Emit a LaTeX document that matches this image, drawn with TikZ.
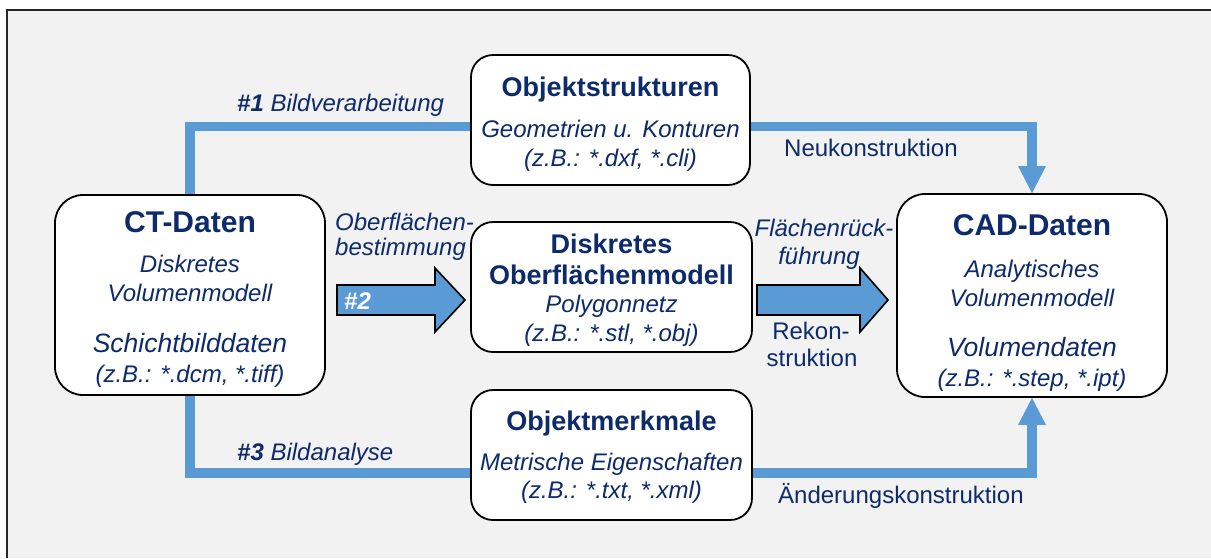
\documentclass[tikz,border=0pt]{standalone}
\usepackage{fontspec}
\setmainfont{Liberation Sans}
\usetikzlibrary{arrows.meta}
\definecolor{navy}{HTML}{0D2B6B}
\definecolor{flowblue}{HTML}{5B9BD5}
\definecolor{bggray}{HTML}{F2F2F2}
\pgfdeclarelayer{bg}
\pgfsetlayers{bg,main}
\newcommand\fTitleL{\fontsize{30}{34}\selectfont\bfseries}
\newcommand\fTitle{\fontsize{27}{31}\selectfont\bfseries}
\newcommand\fIt{\fontsize{24}{28}\selectfont\itshape}
\newcommand\fItL{\fontsize{26.5}{30}\selectfont\itshape}
\newcommand\fLab{\fontsize{24}{28}\selectfont}
\begin{document}
\begin{tikzpicture}[x=1pt,y=-1pt,
  box/.style={draw=black,line width=1.8pt,fill=white,inner sep=0pt},
  flow/.style={draw=flowblue,line width=9.5pt},
  tipb/.style={-{Triangle[length=27pt,width=28pt,line width=0pt]}},
  bigarrow/.style={draw=black,line width=1.6pt,fill=flowblue,line join=miter},
  tb/.style={text=navy,inner sep=0pt,anchor=base},
  lb/.style={text=navy,inner sep=0pt,font=\fLab}]
\useasboundingbox (0,0) rectangle (1211,558);
% boxes
\node[box,rounded corners=28pt,minimum width=270pt,minimum height=200pt] (ct) at (190,295) {};
\node[box,rounded corners=28pt,minimum width=270pt,minimum height=203pt] (cad) at (1032,295.5) {};
\node[box,rounded corners=22pt,minimum width=279pt,minimum height=130pt] (objs) at (610.5,120) {};
\node[box,rounded corners=22pt,minimum width=281pt,minimum height=130pt] (dis) at (611.5,287) {};
\node[box,rounded corners=22pt,minimum width=281pt,minimum height=130pt] (objm) at (611.5,455) {};
\coordinate (toprow) at (0,126.5);
\coordinate (botrow) at (0,473);
\begin{pgfonlayer}{bg}
\fill[white] (0,0) rectangle (1211,558);
\fill[bggray] (7,10) rectangle (1211,558);
\draw[line width=1.5pt,black!85] (1211,10) -- (7,10) -- (7,558);
\draw[flow,tipb] (ct.north) -- (ct.north |- toprow) -| (cad.north);
\draw[flow,tipb] (ct.south) -- (ct.south |- botrow) -| (cad.south);
\end{pgfonlayer}
% big arrows
\coordinate (a2) at (337,300);
\coordinate (a4) at (757,300);
\draw[bigarrow] (a2) ++(0,-15) -- ++(98,0) -- ++(0,-17) -- ++(30,32) -- ++(-30,32) -- ++(0,-17) -- ++(-98,0) -- cycle;
\draw[bigarrow] (a4) ++(0,-15) -- ++(103,0) -- ++(0,-17) -- ++(28,32) -- ++(-28,32) -- ++(0,-17) -- ++(-103,0) -- cycle;
\node[inner sep=0pt,anchor=base west,text=white,font=\fLab\bfseries\itshape] (n2) at (344,309.5) {\#2};
% CT text
\node[tb,font=\fTitleL] (ctT) at (190,232) {CT-Daten};
\node[tb,font=\fIt] (ctA) at (190,272) {Diskretes};
\node[tb,font=\fIt] (ctB) at (190,301) {Volumenmodell};
\node[tb,font=\fItL] (ctC) at (190,352) {Schichtbilddaten};
\node[tb,font=\fIt] (ctD) at (190,382) {(z.B.: *.dcm, *.tiff)};
% CAD text
\node[tb,font=\fTitleL] (cadT) at (1032,235) {CAD-Daten};
\node[tb,font=\fIt] (cadA) at (1032,277) {Analytisches};
\node[tb,font=\fIt] (cadB) at (1032,306) {Volumenmodell};
\node[tb,font=\fItL] (cadC) at (1032,356) {Volumendaten};
\node[tb,font=\fIt] (cadD) at (1032,386) {(z.B.: *.step, *.ipt)};
% Objektstrukturen
\node[tb,font=\fTitle] (osT) at (610.5,96) {Objektstrukturen};
\node[tb,font=\fIt] (osA) at (610.5,137) {Geometrien u. Konturen};
\node[tb,font=\fIt] (osB) at (610.5,166) {(z.B.: *.dxf, *.cli)};
% Diskretes Oberflaechenmodell
\node[tb,font=\fTitle] (dsT) at (611.5,253) {Diskretes};
\node[tb,font=\fTitle] (dsU) at (611.5,284) {Oberflächenmodell};
\node[tb,font=\fIt] (dsA) at (611.5,312) {Polygonnetz};
\node[tb,font=\fIt] (dsB) at (611.5,341) {(z.B.: *.stl, *.obj)};
% Objektmerkmale
\node[tb,font=\fTitle] (omT) at (611.5,430) {Objektmerkmale};
\node[tb,font=\fIt] (omA) at (611.5,470) {Metrische Eigenschaften};
\node[tb,font=\fIt] (omB) at (611.5,498) {(z.B.: *.txt, *.xml)};
% labels
\node[lb,anchor=base west] (l1) at (237,111) {\itshape\textbf{\#1} Bildverarbeitung};
\node[lb,anchor=base west] (l2) at (784,156) {Neukonstruktion};
\node[lb,anchor=base west] (l3) at (335,230) {\itshape Oberflächen-};
\node[lb,anchor=base west] (l4) at (335,255) {\itshape bestimmung};
\node[lb,anchor=base] (l5) at (824,236) {\itshape Flächenrück-};
\node[lb,anchor=base] (l6) at (819,264) {\itshape führung};
\node[lb,anchor=base] (l7) at (811,339) {Rekon-};
\node[lb,anchor=base] (l8) at (812,366) {struktion};
\node[lb,anchor=base west] (l9) at (237,460) {\itshape\textbf{\#3} Bildanalyse};
\node[lb,anchor=base west] (l10) at (778,503) {Änderungskonstruktion};
\end{tikzpicture}
\end{document}
